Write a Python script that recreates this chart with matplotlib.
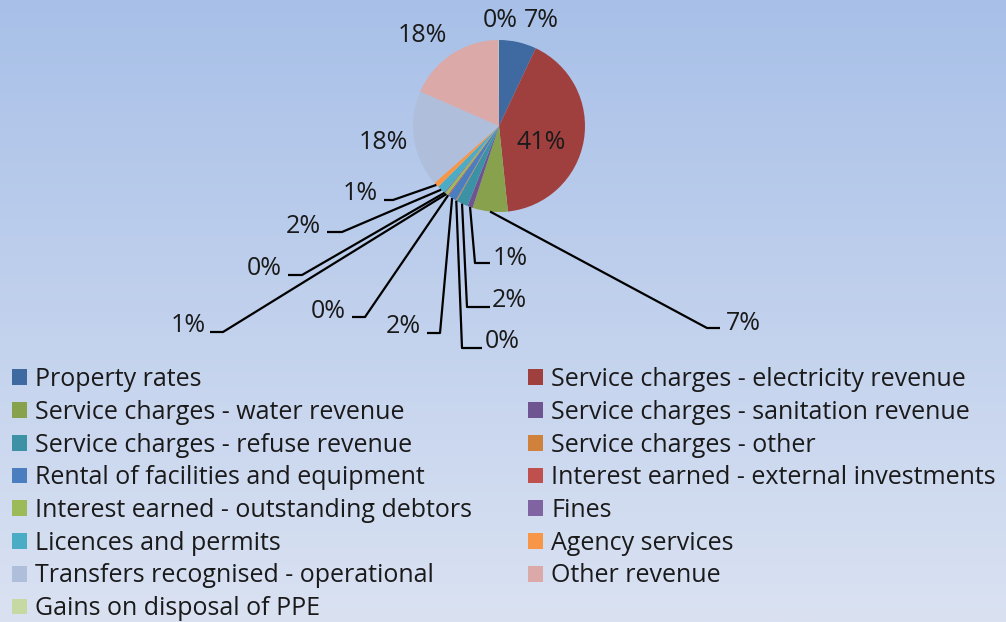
import numpy as np
import matplotlib
matplotlib.use("Agg")
import matplotlib.pyplot as plt
from matplotlib.colors import LinearSegmentedColormap

# ---------------- data ----------------
categories = [
    "Property rates",
    "Service charges - electricity revenue",
    "Service charges - water revenue",
    "Service charges - sanitation revenue",
    "Service charges - refuse revenue",
    "Service charges - other",
    "Rental of facilities and equipment",
    "Interest earned - external investments",
    "Interest earned - outstanding debtors",
    "Fines",
    "Licences and permits",
    "Agency services",
    "Transfers recognised - operational",
    "Other revenue",
    "Gains on disposal of PPE",
]
values = [7.0, 41.2, 6.6, 1.0, 2.2, 0.2, 1.6, 0.2, 0.6, 0.2, 1.5, 1.0, 18.0, 18.3, 0.1]
label_texts = ["7%", "41%", "7%", "1%", "2%", "0%", "2%", "0%", "1%", "0%",
               "2%", "1%", "18%", "18%", "0%"]

colors = ["#3E6AA1", "#A0403E", "#88A14C", "#6E5490", "#3D91A5", "#D0813B",
          "#4A7EBF", "#C0504D", "#9BBB59", "#8064A2", "#4BACC6", "#F79646",
          "#AFBFDB", "#DBA9A8", "#C6D9A3"]

# ---------------- layout (pixel coordinates, y down) ----------------
W, H = 1006, 622
CX, CY, R = 499, 126, 86
FS = 18
FONT = "Open Sans"
TEXT_DY = 2.5

# label layout: (text_x, text_y, ha, elbow_x, elbow_y, end_x) ; elbow None => no leader
label_layout = [
    (541, 18, "center", None, None, None),
    (541, 140, "center", None, None, None),
    (726, 321, "left", 707, 328, 720),
    (493, 256, "left", 475, 263, 490),
    (492, 298, "left", 467, 307, 490),
    (485, 339, "left", 462, 348, 482),
    (421, 324, "right", 440, 333, 427),
    (346, 309, "right", 365, 317, 352),
    (206, 323, "right", 223, 332, 210),
    (282, 266, "right", 302, 275, 288),
    (321, 224, "right", 342, 232, 327),
    (378, 191, "right", 393, 200, 384),
    (383, 140, "center", None, None, None),
    (422, 33, "center", None, None, None),
    (500, 18, "center", None, None, None),
]

def Y(py):
    return H - py

fig = plt.figure(figsize=(W / 100, H / 100), dpi=100)
ax = fig.add_axes([0, 0, 1, 1])
ax.set_xlim(0, W)
ax.set_ylim(0, H)
ax.set_aspect("equal")
ax.axis("off")

# background gradient
cmap = LinearSegmentedColormap.from_list("bg", ["#DAE2F2", "#A8C0E8"])
grad = np.linspace(0, 1, 256).reshape(-1, 1)
ax.imshow(grad, extent=[0, W, 0, H], origin="lower", cmap=cmap, aspect="auto", zorder=0)

wedges, _ = ax.pie(values, colors=colors, startangle=90, counterclock=False,
                   center=(CX, Y(CY)), radius=R, frame=True,
                   wedgeprops=dict(linewidth=0))
ax.set_xlim(0, W)
ax.set_ylim(0, H)
ax.axis("off")
for w in wedges:
    w.set_zorder(2)

for w, txt, lay in zip(wedges, label_texts, label_layout):
    tx, ty, ha, ex, ey, hx = lay
    if ex is not None:
        mid = np.deg2rad((w.theta1 + w.theta2) / 2)
        sx = CX + R * np.cos(mid)
        sy = Y(CY) + R * np.sin(mid)
        ax.plot([sx, ex, hx], [sy, Y(ey), Y(ey)], color="black", lw=1.6,
                zorder=3, solid_capstyle="butt")
    ax.text(tx, Y(ty + TEXT_DY), txt, ha=ha, va="center", fontsize=FS, family=FONT,
            color="#1a1a1a", zorder=4)

# legend: two columns, row-wise order like the original
col1 = list(range(0, len(categories), 2))
col2 = list(range(1, len(categories), 2))
common = dict(frameon=False, handlelength=0.6, handleheight=0.6,
              handletextpad=0.32, labelspacing=0.31, borderpad=0, borderaxespad=0,
              prop=dict(family=FONT, size=FS))
leg1 = ax.legend([wedges[i] for i in col1], [categories[i] for i in col1],
                 loc="upper left", bbox_to_anchor=(12 / W, Y(367) / H), **common)
ax.add_artist(leg1)
leg2 = ax.legend([wedges[i] for i in col2], [categories[i] for i in col2],
                 loc="upper left", bbox_to_anchor=(528 / W, Y(367) / H), **common)
for leg in (leg1, leg2):
    for t in leg.get_texts():
        t.set_color("#1a1a1a")

fig.savefig("out.png", dpi=100)
